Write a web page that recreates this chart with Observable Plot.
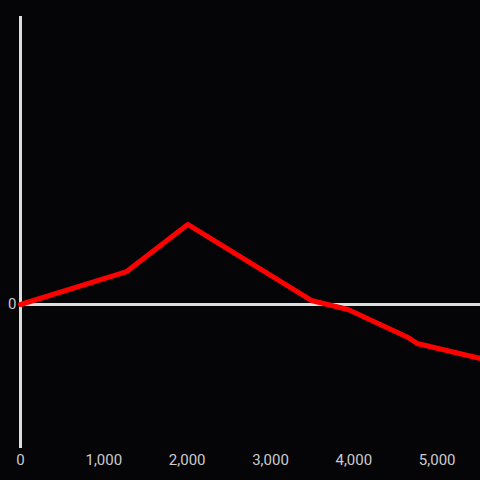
<!DOCTYPE html>
<html>
<head>
<meta charset="utf-8">
<script src="https://cdn.jsdelivr.net/npm/d3@7"></script>
<script src="https://cdn.jsdelivr.net/npm/@observablehq/plot@0.6"></script>
<style>
  html, body { margin: 0; padding: 0; background: #050407; }
  #chart svg { display: block; }
</style>
</head>
<body>
<div id="chart"></div>
<script>
const xValues = [0, 1274, 2007, 3490, 3930, 4652, 4760, 5520];
const yValues = [0, 0.229, 0.556, 0.028, -0.035, -0.229, -0.271, -0.375];
const xTicks = [0, 1000, 2000, 3000, 4000, 5000];
const yTicks = [0];

const data = xValues.map((x, i) => ({x, y: yValues[i]}));
const fmt = d3.format(",");

const chart = Plot.plot({
  width: 480,
  height: 480,
  marginLeft: 20,
  marginRight: 0,
  marginTop: 16,
  marginBottom: 32,
  style: {background: "#050407", color: "#cccccc", fontFamily: "Roboto, Arial, sans-serif"},
  x: {domain: [0, 5520]},
  y: {domain: [-1, 2]},
  marks: [
    Plot.axisX(xTicks, {tickFormat: fmt, tickSize: 0, tickPadding: 6, fontSize: 15, fill: "#cccccc", label: null}),
    Plot.axisY(yTicks, {tickFormat: fmt, tickSize: 0, tickPadding: 4, fontSize: 15, fill: "#cccccc", label: null}),
    Plot.ruleX([0], {stroke: "#dddddd", strokeWidth: 3}),
    Plot.ruleY([0], {stroke: "#dddddd", strokeWidth: 3}),
    Plot.line(data, {x: "x", y: "y", stroke: "#ff0000", strokeWidth: 5})
  ]
});
document.getElementById("chart").appendChild(chart);
</script>
</body>
</html>
